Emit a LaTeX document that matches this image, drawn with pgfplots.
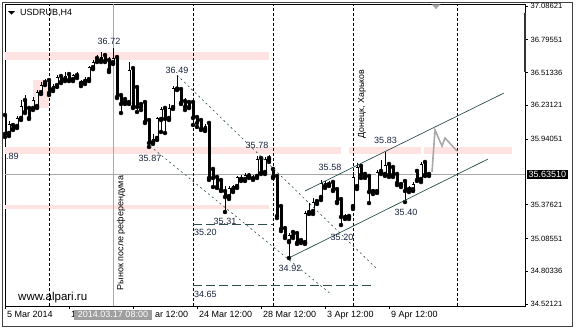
\documentclass[border=0pt]{standalone}
\usepackage{pgfplots}
\pgfplotsset{compat=1.18}
\usepackage{pgfplotstable}
\usepackage{fontspec}
\setmainfont{Liberation Sans}
\definecolor{pinkzone}{RGB}{255,226,226}
\definecolor{slate}{RGB}{47,79,79}
\definecolor{lbl}{RGB}{25,35,60}
\definecolor{xhair}{RGB}{168,168,168}

\pgfplotstableread{
x O H L C
5 36.139 36.157 35.959 35.985
9 35.985 36.096 35.967 36.071
13 36.053 36.062 36.019 36.028
17 36.045 36.139 36.036 36.122
21 36.114 36.277 36.105 36.225
25 36.268 36.320 36.165 36.174
29 36.200 36.217 36.114 36.122
33 36.200 36.303 36.191 36.277
37 36.217 36.363 36.208 36.346
41 36.337 36.432 36.329 36.406
45 36.423 36.458 36.406 36.432
49 36.440 36.466 36.320 36.337
53 36.363 36.415 36.354 36.397
57 36.397 36.492 36.389 36.475
61 36.475 36.501 36.423 36.432
65 36.449 36.518 36.440 36.483
69 36.492 36.509 36.440 36.449
73 36.449 36.501 36.440 36.492
77 36.483 36.518 36.466 36.492
81 36.415 36.449 36.397 36.440
85 36.432 36.475 36.415 36.458
89 36.449 36.569 36.440 36.561
93 36.552 36.621 36.543 36.604
97 36.630 36.664 36.604 36.613
101 36.613 36.690 36.604 36.647
105 36.655 36.681 36.604 36.613
109 36.613 36.647 36.518 36.535
113 36.595 36.724 36.587 36.638
117 36.638 36.664 36.294 36.303
121 36.311 36.337 36.165 36.243
125 36.277 36.294 36.243 36.260
129 36.251 36.604 36.243 36.535
133 36.543 36.561 36.208 36.217
137 36.380 36.397 36.174 36.217
141 36.234 36.251 36.191 36.217
145 36.251 36.268 36.079 36.088
149 36.096 36.114 35.873 35.907
153 35.907 35.985 35.899 35.942
157 35.942 36.131 35.933 36.122
161 36.105 36.217 36.002 36.200
165 36.200 36.225 35.993 36.114
169 36.114 36.243 36.105 36.208
173 36.208 36.397 36.200 36.380
177 36.367 36.492 36.363 36.375
181 36.363 36.372 36.243 36.251
185 36.260 36.294 36.191 36.217
189 36.251 36.260 36.208 36.217
193 36.251 36.277 36.062 36.122
197 36.122 36.139 36.045 36.079
201 36.096 36.122 36.019 36.028
205 36.019 36.071 36.010 36.053
209 36.071 36.088 35.589 35.606
213 35.675 35.692 35.528 35.606
217 35.606 35.623 35.520 35.528
221 35.580 35.597 35.494 35.502
225 35.485 35.537 35.313 35.442
229 35.442 35.537 35.425 35.520
233 35.502 35.545 35.485 35.537
237 35.528 35.623 35.520 35.615
241 35.589 35.632 35.580 35.615
245 35.589 35.649 35.580 35.632
249 35.620 35.649 35.606 35.616
253 35.597 35.632 35.589 35.615
257 35.615 35.795 35.606 35.769
261 35.769 35.787 35.640 35.649
265 35.649 35.787 35.640 35.769
269 35.769 35.804 35.744 35.765
273 35.675 35.701 35.606 35.615
277 35.615 35.640 35.261 35.278
281 35.356 35.373 35.149 35.166
285 35.166 35.184 35.089 35.106
289 35.054 35.132 34.917 35.115
293 35.132 35.158 35.089 35.106
297 35.123 35.141 35.038 35.046
301 35.063 35.089 35.046 35.072
305 35.046 35.321 35.038 35.304
309 35.304 35.390 35.296 35.321
313 35.313 35.434 35.296 35.399
317 35.399 35.416 35.382 35.408
321 35.434 35.589 35.416 35.563
325 35.528 35.580 35.520 35.563
329 35.545 35.580 35.537 35.563
333 35.563 35.580 35.494 35.502
337 35.502 35.520 35.390 35.399
341 35.416 35.434 35.201 35.270
345 35.261 35.296 35.253 35.287
349 35.270 35.296 35.253 35.278
353 35.356 35.658 35.339 35.615
357 35.528 35.735 35.511 35.701
361 35.701 35.718 35.606 35.632
365 35.632 35.658 35.606 35.615
369 35.615 35.632 35.390 35.485
373 35.485 35.511 35.468 35.502
377 35.485 35.675 35.477 35.658
381 35.658 35.761 35.640 35.666
385 35.632 35.830 35.623 35.718
389 35.718 35.735 35.615 35.632
393 35.692 35.718 35.615 35.632
397 35.632 35.658 35.545 35.563
401 35.545 35.571 35.528 35.563
405 35.571 35.589 35.399 35.494
409 35.502 35.537 35.485 35.528
413 35.502 35.571 35.494 35.554
417 35.658 35.684 35.580 35.589
421 35.589 35.744 35.571 35.726
425 35.735 35.752 35.623 35.632
429 35.632 35.649 35.623 35.640
}\candles

\begin{document}
\begin{tikzpicture}[x=1pt,y=1pt]
\path[use as bounding box] (0,0) rectangle (576,329);
\draw[line width=0.7pt, black!75] (2.5,3) rectangle (572.5,326.5);
\begin{axis}[
  at={(5pt,23pt)}, anchor=south west, scale only axis,
  width=520pt, height=302pt,
  xmin=5, xmax=525, ymin=34.5040, ymax=37.1034,
  clip mode=individual,
  axis line style={black, line width=0.7pt},
  xtick={5,69,133,197,261,325,389},
  xticklabels={5 Mar 2014,1\phantom{3 Mar 12:00},\phantom{18 M}ar 12:00,24 Mar 12:00,28 Mar 12:00,3 Apr 12:00,9 Apr 12:00},
  ytick={34.52121,34.80336,35.08551,35.37621,35.94051,36.23121,36.51336,36.79551,37.08621},
  yticklabels={34.52121,34.80336,35.08551,35.37621,35.94051,36.23121,36.51336,36.79551,37.08621},
  xtick pos=bottom, ytick pos=right, yticklabel pos=right,
  tick align=outside, major tick length=3pt,
  tick style={black, line width=0.6pt},
  xticklabel style={font=\fontsize{9}{10}\selectfont, anchor=north west, xshift=-1.5pt, yshift=1pt},
  yticklabel style={font=\fontsize{7.6}{9}\selectfont, anchor=west, xshift=-1pt},
]
% pink zones
\addplot[fill=pinkzone, draw=none, forget plot] coordinates {(5,36.690) (269,36.690) (269,36.621) (5,36.621)} -- cycle;
\addplot[fill=pinkzone, draw=none, forget plot] coordinates {(5,35.873) (341,35.873) (341,35.812) (5,35.812)} -- cycle;
\addplot[fill=pinkzone, draw=none, forget plot] coordinates {(349,35.873) (421,35.873) (421,35.812) (349,35.812)} -- cycle;
\addplot[fill=pinkzone, draw=none, forget plot] coordinates {(424,35.873) (512,35.873) (512,35.812) (424,35.812)} -- cycle;
\addplot[fill=pinkzone, draw=none, forget plot] coordinates {(5,35.373) (269,35.373) (269,35.339) (5,35.339)} -- cycle;
\addplot[fill=pinkzone, draw=none, forget plot] coordinates {(33,36.449) (49,36.449) (49,36.208) (33,36.208)} -- cycle;
% crosshair
\addplot[xhair, line width=0.7pt, forget plot] coordinates {(5,35.634) (525,35.634)};
\addplot[xhair, line width=0.7pt, forget plot] coordinates {(113,34.504) (113,37.1034)};
% separators
\addplot[black, line width=0.6pt, dash pattern=on 3pt off 2pt, forget plot, unbounded coords=jump] coordinates {
 (49,34.504) (49,37.1034) (49,nan)
 (193,34.504) (193,37.1034) (193,nan)
 (273,34.504) (273,37.1034) (273,nan)
 (353,34.504) (353,37.1034) (353,nan)
 (457,34.504) (457,37.1034)};
% candles: wicks
\addplot[only marks, mark=none, forget plot,
  error bars/.cd, y dir=plus, y explicit, error mark=none,
  error bar style={black, line width=0.8pt}]
  table[x=x, y=L, y error expr={\thisrow{H}-\thisrow{L}}] {\candles};
% bodies
\addplot[only marks, mark=none, forget plot,
  error bars/.cd, y dir=plus, y explicit, error mark=none,
  error bar style={black, line width=3pt}]
  table[x=x, y expr={min(\thisrow{O},\thisrow{C})}, y error expr={max(abs(\thisrow{C}-\thisrow{O}),0.0086)}] {\candles};
\addplot[only marks, mark=none, forget plot,
  error bars/.cd, y dir=plus, y explicit, error mark=none,
  error bar style={white, line width=1.2pt}]
  table[x=x, y expr={\thisrow{O}+0.0086}, y error expr={max(\thisrow{C}-\thisrow{O}-0.0172,0)}] {\candles};
% descending dashed lines
\addplot[slate, line width=0.6pt, dash pattern=on 2pt off 3pt, forget plot] coordinates {(177,36.492) (378,34.814)};
\addplot[slate, line width=0.6pt, dash pattern=on 2pt off 3pt, forget plot] coordinates {(150,35.881) (332,34.599)};
% ascending channel
\addplot[slate, line width=0.7pt, forget plot] coordinates {(290,34.922) (488,35.769)};
\addplot[slate, line width=0.7pt, forget plot] coordinates {(305,35.494) (504,36.337)};
% horizontal levels
\addplot[slate, line width=0.7pt, dash pattern=on 9pt off 4pt, forget plot] coordinates {(193,35.210) (273,35.210)};
\addplot[slate, line width=0.7pt, dash pattern=on 9pt off 4pt, forget plot] coordinates {(193,34.685) (373,34.685)};
% projection
\addplot[xhair, line width=1.6pt, forget plot] coordinates {(432,35.657) (435,36.019) (442,35.881) (445,35.950) (457,35.838)};

% labels
\begin{scope}[every node/.style={font=\fontsize{9}{10}\selectfont, text=lbl, inner sep=0pt}]
\node at (axis cs:109,36.785) {36.72};
\node at (axis cs:177,36.535) {36.49};
\node at (axis cs:150,35.778) {35.87};
\node[anchor=west] at (axis cs:6,35.795) {.89};
\node at (axis cs:257,35.890) {35.78};
\node at (axis cs:225,35.236) {35.31};
\node[anchor=west] at (axis cs:194,35.137) {35.20};
\node[anchor=west] at (axis cs:194,34.607) {34.65};
\node at (axis cs:290,34.827) {34.92};
\node at (axis cs:342,35.094) {35.20};
\node at (axis cs:330,35.696) {35.58};
\node at (axis cs:385.5,35.928) {35.83};
\node at (axis cs:406,35.309) {35.40};
\end{scope}
\node[rotate=90, font=\fontsize{9}{11}\selectfont, inner sep=0pt] at (axis cs:121,35.132) {Рынок после референдума};
\node[rotate=90, font=\fontsize{8.8}{10}\selectfont, inner sep=0pt] at (axis cs:362,36.243) {Донецк, Харьков};
\node[anchor=west, font=\fontsize{11.5}{13}\selectfont, inner sep=0pt] at (axis cs:18,34.581) {www.alpari.ru};
\node[anchor=west, font=\fontsize{9}{10}\selectfont, inner sep=0pt] at (axis cs:20,37.029) {USDRUB,H4};
\fill[black] (axis cs:8,37.043) -- (axis cs:15,37.043) -- (axis cs:11.5,37.011) -- cycle;
\fill[black!35] (axis cs:431.5,37.100) -- (axis cs:440.5,37.100) -- (axis cs:436,37.060) -- cycle;
\draw[line width=2.6pt, black!80] (axis cs:525,37.026) -- (axis cs:525,36.518);
\node[anchor=west, fill=black, text=white, font=\fontsize{9}{10}\selectfont, inner xsep=1.5pt, inner ysep=1.5pt] at (axis cs:527,35.634) {35.63510};
\node[anchor=north, fill=black!38, text=white, font=\fontsize{9}{10}\selectfont, inner xsep=4pt, inner ysep=1.5pt] at (axis cs:113,34.470) {2014.03.17 08:00};
\end{axis}
\end{tikzpicture}
\end{document}
